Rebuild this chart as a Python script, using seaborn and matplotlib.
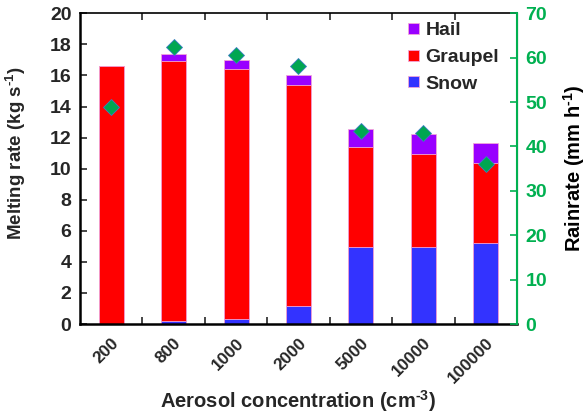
import numpy as np
import pandas as pd
import matplotlib
matplotlib.use('Agg')
import matplotlib.pyplot as plt
import seaborn as sns
from matplotlib.ticker import FixedLocator, MultipleLocator

# values
conc = ['200', '800', '1000', '2000', '5000', '10000', '100000']
snow = [0.0, 0.22, 0.34, 1.14, 4.98, 4.98, 5.24]
graupel = [16.59, 16.71, 16.08, 14.27, 6.40, 5.94, 5.15]
hail = [0.0, 0.45, 0.56, 0.59, 1.20, 1.29, 1.24]
rainrate = [48.9, 62.4, 60.7, 58.1, 43.5, 43.1, 36.0]

sns.set_style('white')
plt.rcParams['font.family'] = ['Liberation Sans', 'DejaVu Sans']
plt.rcParams['font.weight'] = 'bold'
plt.rcParams['mathtext.fontset'] = 'custom'
plt.rcParams['mathtext.bf'] = 'Liberation Sans:bold'
plt.rcParams['mathtext.rm'] = 'Liberation Sans:bold'
plt.rcParams['mathtext.default'] = 'bf'

df = pd.DataFrame({'conc': conc, 'snow': snow, 'graupel': graupel, 'hail': hail, 'rain': rainrate})
df['sg'] = df['snow'] + df['graupel']
df['sgh'] = df['sg'] + df['hail']

fig = plt.figure(figsize=(5.87, 4.16), dpi=100)
ax = fig.add_axes([0.136, 0.221, 0.745, 0.747])

edge = '#f2a6d8'
sns.barplot(data=df, x='conc', y='sgh', color='#9900ff', width=0.4, edgecolor=edge, linewidth=0.6,
            saturation=1, label='Hail', ax=ax, order=conc)
sns.barplot(data=df, x='conc', y='sg', color='#ff0000', width=0.4, edgecolor=edge, linewidth=0.6,
            saturation=1, label='Graupel', ax=ax, order=conc)
sns.barplot(data=df, x='conc', y='snow', color='#3333ff', width=0.4, edgecolor=edge, linewidth=0.6,
            saturation=1, label='Snow', ax=ax, order=conc)

ax.set_xlim(-0.5, 6.5)
ax.set_ylim(0, 20)
ax.yaxis.set_major_locator(MultipleLocator(2))
ax.xaxis.set_minor_locator(FixedLocator(np.arange(0.5, 6.5, 1)))
ax.tick_params(axis='x', which='major', length=0, labelsize=12.3, pad=8)
ax.tick_params(axis='x', which='minor', direction='in', length=5, width=1.2, top=True, bottom=True)
ax.tick_params(axis='y', which='major', direction='in', length=5, width=1.2, labelsize=14, right=False, pad=6)
plt.setp(ax.get_xticklabels(), rotation=45, ha='right', rotation_mode='anchor', fontweight='bold')
plt.setp(ax.get_yticklabels(), fontweight='bold')
for s in ['left', 'bottom', 'top']:
    ax.spines[s].set_linewidth(1.8)
    ax.spines[s].set_color('black')
ax.spines['top'].set_linewidth(1.2)
ax.set_xlabel(r'Aerosol concentration (cm$^{\text{-3}}$)', fontsize=14.5, fontweight='bold')
ax.xaxis.set_label_coords(0.5, -0.205)
ax.set_ylabel(r'Melting rate (kg s$^{\text{-1}}$)', fontsize=13.5, fontweight='bold')
ax.yaxis.set_label_coords(-0.118, 0.55)

leg = ax.legend(loc='upper right', frameon=False, fontsize=14, handlelength=0.55, handleheight=0.5,
                handletextpad=0.35, labelspacing=0.5, borderaxespad=0.3, bbox_to_anchor=(0.99, 1.015))
for t in leg.get_texts():
    t.set_fontweight('bold')

green = '#00b050'
ax2 = ax.twinx()
sns.pointplot(data=df, x='conc', y='rain', order=conc, linestyle='none', markers='D', color='#00a651',
              markersize=8, markeredgecolor='#3a7fc4', markeredgewidth=0.6, ax=ax2)
ax2.set_xlim(-0.5, 6.5)
ax2.set_ylim(0, 70)
ax2.yaxis.set_major_locator(MultipleLocator(10))
ax2.tick_params(axis='y', direction='in', length=5, width=1.2, colors=green, labelsize=14, pad=6)
plt.setp(ax2.get_yticklabels(), fontweight='bold')
ax2.spines['right'].set_color(green)
ax2.spines['right'].set_linewidth(1.5)
for s in ['left', 'bottom', 'top']:
    ax2.spines[s].set_visible(False)
ax2.set_ylabel(r'Rainrate (mm h$^{\text{-1}}$)', fontsize=14.5, fontweight='bold', color='black', labelpad=10)
ax2.set_xlabel('')

fig.savefig('out.png', dpi=100)
